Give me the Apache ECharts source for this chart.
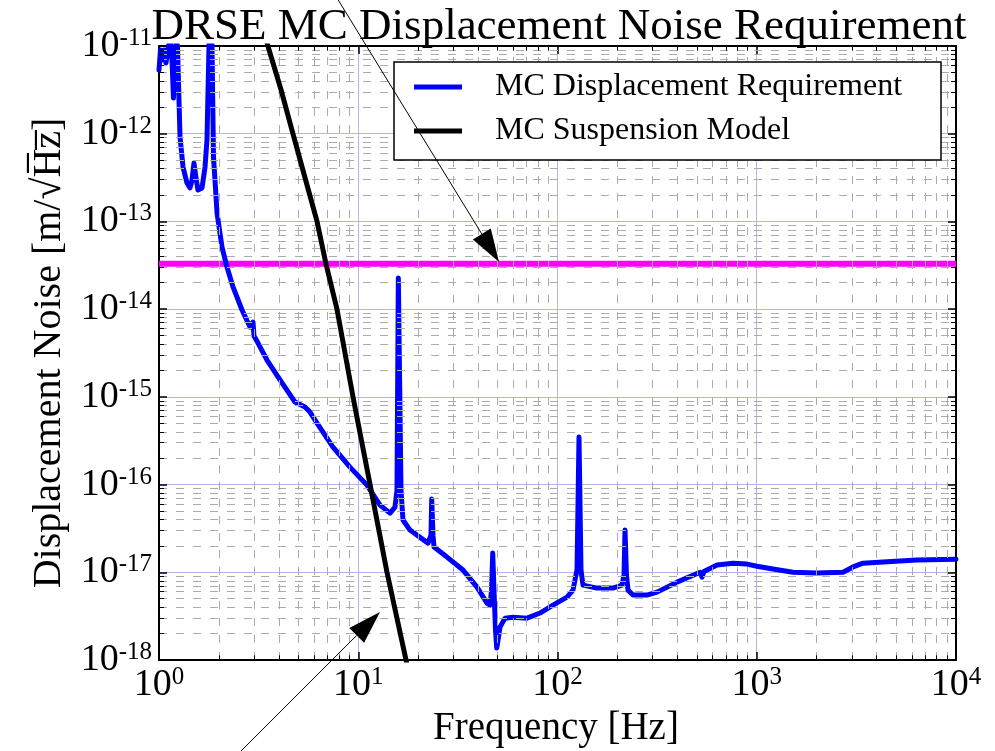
<!DOCTYPE html>
<html>
<head>
<meta charset="utf-8">
<script src="https://cdn.jsdelivr.net/npm/echarts@6/dist/echarts.min.js"></script>
<style>
  html, body { margin: 0; padding: 0; background: #fff; }
  #chart { width: 995px; height: 751px; }
</style>
</head>
<body>
<div id="chart"></div>
<script>
  // MC displacement requirement (blue)
  var reqFreq = [1.000, 1.017, 1.035, 1.059, 1.084, 1.110, 1.136, 1.162, 1.182, 1.203, 1.217, 1.238,
    1.275, 1.320, 1.382, 1.431, 1.464, 1.498, 1.533, 1.569, 1.644, 1.702, 1.741, 1.782, 1.813, 1.845,
    1.877, 1.910, 1.955, 2.071, 2.194, 2.352, 2.610, 2.862, 2.963, 2.998, 3.140, 3.484, 4.049, 4.816,
    5.404, 5.726, 6.209, 7.469, 9.09, 11.06, 12.86, 14.43, 15.29, 15.65, 15.89, 16.39, 16.77, 18.18,
    22.39, 23.18, 23.37, 23.72, 24.0, 27.89, 33.56, 39.45, 44.29, 45.85, 46.66, 47.3, 48.0, 48.86,
    49.54, 50.3, 51.45, 54.5, 59.8, 70.3, 81.7, 94.9, 111.6, 119.6, 125.3, 128.2, 131.2, 134.3, 157.8,
    189.9, 210.8, 215.7, 218.2, 221.9, 225.9, 239.3, 281.3, 315.8, 397.9, 519.1, 531.2, 543.6, 631.8,
    760.1, 893.6, 1003, 1206, 1520, 2006, 2710, 3042, 3414, 4301, 6373, 10000];
  var reqNoise = [5.3e-12, 9.0e-12, 6.9e-12, 9.0e-12, 6.4e-12, 9.5e-12, 1.17e-11, 6.9e-12, 2.55e-12,
    6.9e-12, 1.17e-11, 1.0e-11, 9.2e-13, 4.17e-13, 2.74e-13, 2.41e-13, 2.96e-13, 4.63e-13, 3.13e-13,
    2.28e-13, 2.41e-13, 4.17e-13, 8.47e-13, 1.0e-11, 3.0e-11, 1.0e-11, 5.42e-13, 2.96e-13, 1.25e-13,
    5.1e-14, 3.02e-14, 1.79e-14, 9.77e-15, 6.25e-15, 7.13e-15, 4.93e-15, 4.1e-15, 2.63e-15, 1.56e-15,
    8.73e-16, 7.66e-16, 6.71e-16, 5.03e-16, 2.68e-16, 1.58e-16, 9.86e-17, 5.83e-17, 4.73e-17, 5.53e-17,
    8.65e-17, 2.26e-14, 8.65e-17, 3.94e-17, 3.03e-17, 2.15e-17, 2.65e-17, 6.84e-17, 2.65e-17, 1.94e-17,
    1.49e-17, 1.06e-17, 6.78e-18, 4.45e-18, 4.22e-18, 6.26e-18, 1.66e-17, 6.26e-18, 2.19e-18, 1.37e-18,
    1.69e-18, 2.37e-18, 3.0e-18, 3.08e-18, 3.0e-18, 3.43e-18, 4.23e-18, 5.21e-18, 6.26e-18, 1.06e-17,
    3.48e-16, 1.06e-17, 7.14e-18, 6.6e-18, 6.6e-18, 7.14e-18, 9.29e-18, 3.03e-17, 9.29e-18, 6.26e-18,
    5.5e-18, 5.5e-18, 5.94e-18, 7.72e-18, 1.0e-17, 8.81e-18, 1.02e-17, 1.21e-17, 1.27e-17, 1.24e-17,
    1.17e-17, 1.09e-17, 1.0e-17, 9.8e-18, 1.0e-17, 1.15e-17, 1.27e-17, 1.31e-17, 1.38e-17, 1.41e-17];

  // MC suspension model (black)
  var suspFreq = [3.03, 3.52, 4.10, 4.70, 5.41, 6.21, 6.89, 7.82, 9.41, 11.46, 13.94, 17.37, 19.3];
  var suspNoise = [3.35e-11, 1e-11, 3.15e-12, 1e-12, 3.13e-13, 1e-13, 3.27e-14, 1e-14, 1e-15, 1e-16,
    1e-17, 1e-18, 3.5e-19];

  // flat target level (magenta)
  var targetLevel = 3.3e-14;

  var xRange = [1, 1e4];
  var yRange = [1e-18, 1e-11];
  var xDecades = [1, 10, 100, 1000];
  var yDecades = [1e-18, 1e-17, 1e-16, 1e-15, 1e-14, 1e-13, 1e-12];
  var minorSteps = [2, 3, 4, 5, 6, 7, 8, 9];

  // annotation arrows, [tail, head] in data units
  var arrowTop = [[7.39, 4.35e-11], [50.9, 3.44e-14]];
  var arrowBottom = [[2.49, 8.45e-20], [12.86, 3.52e-18]];

  var serif = "'Liberation Serif', 'DejaVu Serif', serif";

  var chartDom = document.getElementById('chart');
  var myChart = echarts.init(chartDom);

  function zip(a, b) {
    return a.map(function (v, i) { return [v, b[i]]; });
  }

  function powLabel(v) {
    var e = Math.round(Math.log10(v));
    return '{b|10}{s|' + e + '}';
  }

  var labelRich = {
    b: { fontFamily: serif, fontSize: 38, color: '#000', lineHeight: 40 },
    s: { fontFamily: serif, fontSize: 25, color: '#000', verticalAlign: 'top', lineHeight: 40, padding: [0, 0, 14, 0] }
  };

  // minor grid lines + minor ticks (at 2..9 of each decade)
  var minorLines = [];
  var minorTicks = [];
  xDecades.forEach(function (d) {
    minorSteps.forEach(function (s) {
      var v = d * s;
      minorLines.push({ xAxis: v });
      minorTicks.push([{ coord: [v, yRange[0] * 1.001] }, { coord: [v, yRange[0] * 1.13] }]);
      minorTicks.push([{ coord: [v, yRange[1] / 1.001] }, { coord: [v, yRange[1] / 1.13] }]);
    });
  });
  yDecades.forEach(function (d) {
    minorSteps.forEach(function (s) {
      var v = d * s;
      minorLines.push({ yAxis: v });
      minorTicks.push([{ coord: [xRange[0] * 1.001, v] }, { coord: [xRange[0] * 1.06, v] }]);
      minorTicks.push([{ coord: [xRange[1] / 1.001, v] }, { coord: [xRange[1] / 1.06, v] }]);
    });
  });

  var axisCommon = {
    type: 'log',
    logBase: 10,
    axisLine: { show: true, onZero: false, lineStyle: { color: '#000', width: 2 } },
    axisTick: { show: true, inside: true, length: 8, lineStyle: { color: '#000', width: 1.5 } },
    splitLine: { show: false },
    minorTick: { show: false },
    minorSplitLine: { show: false }
  };

  var option = {
    animation: false,
    backgroundColor: '#fff',
    grid: { left: 159, right: 39, top: 46, bottom: 91, containLabel: false },
    legend: {
      data: ['MC Displacement Requirement', 'MC Suspension Model'],
      orient: 'vertical',
      left: 394,
      top: 62,
      icon: 'rect',
      itemWidth: 48,
      itemHeight: 5,
      itemGap: 12,
      padding: [9, 39, 13, 20],
      backgroundColor: '#fff',
      borderColor: '#000',
      borderWidth: 1.5,
      borderRadius: 0,
      textStyle: { fontFamily: serif, fontSize: 32, color: '#000', lineHeight: 32, padding: [0, 0, 0, 28] },
      z: 20
    },
    xAxis: [
      Object.assign({}, axisCommon, {
        position: 'bottom', min: xRange[0], max: xRange[1],
        splitLine: { show: true, lineStyle: { color: '#b4b4e6', width: 1 } },
        axisLabel: { formatter: powLabel, rich: labelRich, margin: 5 }
      }),
      Object.assign({}, axisCommon, {
        position: 'top', min: xRange[0], max: xRange[1], axisLabel: { show: false }
      })
    ],
    yAxis: [
      Object.assign({}, axisCommon, {
        position: 'left', min: yRange[0], max: yRange[1],
        splitLine: { show: true, lineStyle: { color: '#b4b4e6', width: 1 } },
        axisLabel: { formatter: powLabel, rich: labelRich, margin: 7 }
      }),
      Object.assign({}, axisCommon, {
        position: 'right', min: yRange[0], max: yRange[1], axisLabel: { show: false }
      })
    ],
    series: [
      {
        name: 'grid',
        type: 'line',
        data: [[xRange[0], yRange[0]]],
        showSymbol: false,
        silent: true,
        lineStyle: { opacity: 0 },
        z: 1,
        markLine: {
          silent: true,
          precision: 20,
          symbol: ['none', 'none'],
          label: { show: false },
          lineStyle: { color: '#ababab', width: 1, type: [8, 9] },
          emphasis: { disabled: true },
          data: minorLines
        }
      },
      {
        name: 'ticks',
        type: 'line',
        data: [[xRange[0], yRange[0]]],
        showSymbol: false,
        silent: true,
        lineStyle: { opacity: 0 },
        z: 2,
        markLine: {
          silent: true,
          precision: 20,
          symbol: ['none', 'none'],
          label: { show: false },
          lineStyle: { color: '#000', width: 1, type: 'solid' },
          emphasis: { disabled: true },
          data: minorTicks
        }
      },
      {
        name: 'Target',
        type: 'line',
        data: [[xRange[0], targetLevel], [xRange[1], targetLevel]],
        showSymbol: false,
        lineStyle: { color: '#ff00ff', width: 6 },
        itemStyle: { color: '#ff00ff' },
        z: 3
      },
      {
        name: 'MC Displacement Requirement',
        type: 'line',
        data: zip(reqFreq, reqNoise),
        showSymbol: false,
        clip: true,
        lineStyle: { color: '#0000ff', width: 5, join: 'round', cap: 'round' },
        itemStyle: { color: '#0000ff' },
        z: 4
      },
      {
        name: 'MC Suspension Model',
        type: 'line',
        data: zip(suspFreq, suspNoise),
        showSymbol: false,
        clip: true,
        lineStyle: { color: '#000000', width: 5, join: 'round' },
        itemStyle: { color: '#000000' },
        z: 5
      }
    ]
  };

  option && myChart.setOption(option);

  // arrows and texts drawn on top
  function arrow(pair) {
    var p0 = myChart.convertToPixel({ xAxisIndex: 0, yAxisIndex: 0 }, pair[0]);
    var p1 = myChart.convertToPixel({ xAxisIndex: 0, yAxisIndex: 0 }, pair[1]);
    var dx = p1[0] - p0[0], dy = p1[1] - p0[1];
    var len = Math.sqrt(dx * dx + dy * dy);
    var ux = dx / len, uy = dy / len;
    var hl = 33, hw = 10.5;
    var bx = p1[0] - ux * hl, by = p1[1] - uy * hl;
    return [
      { type: 'line', z: 100, silent: true,
        shape: { x1: p0[0], y1: p0[1], x2: bx, y2: by },
        style: { stroke: '#000', lineWidth: 1 } },
      { type: 'polygon', z: 100, silent: true,
        shape: { points: [[p1[0], p1[1]], [bx - uy * hw, by + ux * hw], [bx + uy * hw, by - ux * hw]] },
        style: { fill: '#000' } }
    ];
  }

  var graphics = [
    { type: 'text', z: 50, silent: true, x: 559, y: 27,
      style: { text: 'DRSE MC Displacement Noise Requirement', font: '45px ' + serif, fill: '#000', align: 'center', verticalAlign: 'middle' } },
    { type: 'text', z: 50, silent: true, x: 556, y: 729,
      style: { text: 'Frequency [Hz]', font: '39px ' + serif, fill: '#000', align: 'center', verticalAlign: 'middle' } },
    { type: 'text', z: 50, silent: true, x: 49, y: 353, rotation: Math.PI / 2,
      style: { text: 'Displacement Noise [m/\u221aH\u0305z\u0305]', font: '40px ' + serif, fill: '#000', align: 'center', verticalAlign: 'middle' } }
  ].concat(arrow(arrowTop), arrow(arrowBottom));

  myChart.setOption({ graphic: graphics });
</script>
</body>
</html>
